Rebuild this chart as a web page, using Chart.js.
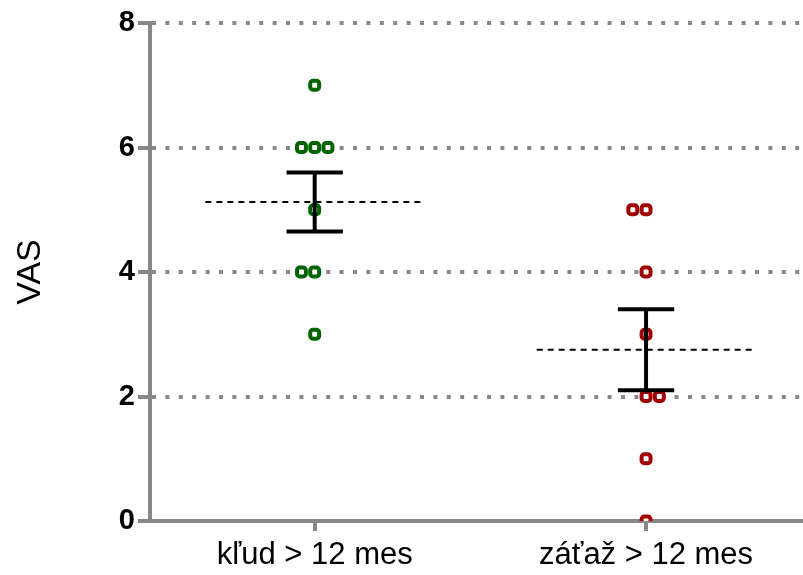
<!DOCTYPE html>
<html>
<head>
<meta charset="utf-8">
<script src="https://cdn.jsdelivr.net/npm/chart.js@4"></script>
<style>
  html, body { margin: 0; padding: 0; background: #fff; overflow: hidden; }
  #wrap { width: 811px; height: 575px; position: relative; }
</style>
</head>
<body>
<div id="wrap"><canvas id="vasChart"></canvas></div>
<script>
// skupiny na osi x
const categories = ['kľud > 12 mes', 'záťaž > 12 mes'];

// jednotlivé hodnoty VAS (x = posun bodu v rámci skupiny)
const kludValues = [7, 6, 6, 6, 5, 4, 4, 3];
const kludJitter = [0, -0.04, 0, 0.04, 0, -0.04, 0, 0];
const zatazValues = [5, 5, 4, 3, 2, 2, 1, 0];
const zatazJitter = [-0.04, 0, 0, 0, 0, 0.04, 0, 0];

// priemer a SEM odčítané z grafu
const means = [5.125, 2.75];
const semLow = [4.65, 2.1];
const semHigh = [5.6, 3.4];

const yTicks = [0, 2, 4, 6, 8];

const GREEN = '#006400';
const RED = '#a00000';
const GREY = '#888888';
const FONT = "'Liberation Sans', Arial, sans-serif";

function pointsFor(values, jitter, catIndex) {
    return values.map((v, i) => ({ x: catIndex + jitter[i], y: v }));
}

function meanLine(i) {
    return [{ x: i - 0.33, y: means[i] }, { x: i + 0.33, y: means[i] }];
}

// chybová úsečka: horný zárez, zvislá čiara, dolný zárez (oddelené null)
function errorBar(i) {
    const w = 0.085;
    return [
        { x: i - w, y: semHigh[i] }, { x: i + w, y: semHigh[i] }, { x: i, y: null },
        { x: i, y: semHigh[i] }, { x: i, y: semLow[i] }, { x: i, y: null },
        { x: i - w, y: semLow[i] }, { x: i + w, y: semLow[i] }
    ];
}

const pointStyle = {
    showLine: false,
    pointStyle: 'rectRounded',
    pointRadius: 5.2,
    pointBorderWidth: 4,
    pointBackgroundColor: '#ffffff',
    order: 2
};

const lineStyle = {
    showLine: true,
    pointRadius: 0,
    borderColor: '#000',
    spanGaps: false,
    fill: false,
    order: 1
};

const ctx = document.getElementById('vasChart').getContext('2d');
new Chart(ctx, {
    type: 'scatter',
    data: {
        datasets: [
            { ...pointStyle, label: categories[0], data: pointsFor(kludValues, kludJitter, 0), borderColor: GREEN, pointBorderColor: GREEN },
            { ...pointStyle, label: categories[1], data: pointsFor(zatazValues, zatazJitter, 1), borderColor: RED, pointBorderColor: RED },
            { ...lineStyle, label: 'mean0', data: meanLine(0), borderWidth: 2, borderDash: [6, 5] },
            { ...lineStyle, label: 'mean1', data: meanLine(1), borderWidth: 2, borderDash: [6, 5] },
            { ...lineStyle, label: 'sem0', data: errorBar(0), borderWidth: 4 },
            { ...lineStyle, label: 'sem1', data: errorBar(1), borderWidth: 4 }
        ]
    },
    options: {
        responsive: true,
        maintainAspectRatio: false,
        animation: false,
        layout: { padding: { left: 0, right: 0, top: 23, bottom: 0 } },
        plugins: {
            legend: { display: false },
            tooltip: { enabled: false }
        },
        scales: {
            x: {
                type: 'linear',
                min: -0.497,
                max: 1.47,
                afterBuildTicks: scale => {
                    scale.ticks = categories.map((c, i) => ({ value: i }));
                },
                afterFit: scale => { scale.height = 54; },
                ticks: {
                    color: '#000',
                    padding: 6,
                    font: { family: FONT, size: 31 },
                    callback: value => categories[value]
                },
                grid: {
                    drawOnChartArea: false,
                    drawTicks: true,
                    tickLength: 10,
                    tickColor: GREY,
                    lineWidth: 4
                },
                border: { color: GREY, width: 4 }
            },
            y: {
                min: 0,
                max: 8,
                afterBuildTicks: scale => {
                    scale.ticks = yTicks.map(v => ({ value: v }));
                },
                afterFit: scale => { scale.width = 150; },
                title: {
                    display: true,
                    text: 'VAS',
                    color: '#000',
                    padding: { top: 10, bottom: 0 },
                    font: { family: FONT, size: 34 }
                },
                ticks: {
                    color: '#000',
                    padding: 3,
                    font: { family: FONT, size: 29, weight: 'bold' }
                },
                grid: {
                    color: c => (c.tick && c.tick.value === 0) ? 'rgba(0,0,0,0)' : GREY,
                    lineWidth: 4,
                    tickColor: GREY,
                    tickLength: 12,
                    tickBorderDash: []
                },
                border: { color: GREY, width: 4, dash: [4, 9.4] }
            }
        }
    }
});
</script>
</body>
</html>
